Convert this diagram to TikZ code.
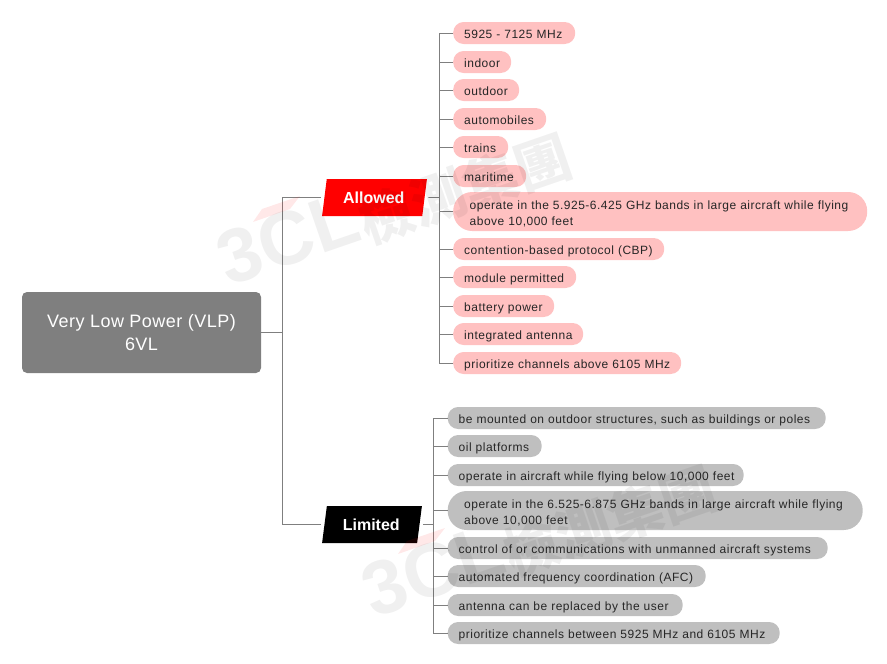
\documentclass[tikz,border=0pt]{standalone}
\usepackage{fontspec}
\setmainfont{Liberation Sans}[LetterSpace=4.2]
\newfontfamily\plainf{Liberation Sans}
\newfontfamily\rootf{Liberation Sans}[LetterSpace=2.7]
\newfontfamily\cjk{Noto Sans CJK TC}
\usetikzlibrary{shapes.geometric}
\definecolor{pinkpill}{HTML}{FFC1C1}
\definecolor{graypill}{HTML}{BFBFBF}
\definecolor{linec}{HTML}{7F7F7F}
\definecolor{txt}{HTML}{262626}
\newcommand\lineone[1]{\raisebox{-2pt}[9pt][3pt]{#1}}
\newcommand\linetwo[1]{\raisebox{-3pt}[9pt][3pt]{#1}}
\tikzset{
  x=1pt,y=-1pt,
  conn/.style={draw=linec,line width=0.8pt},
  pillbase/.style={anchor=west,align=left,text=txt,font=\fontsize{12}{16}\selectfont,inner ysep=0pt},
  pill/.style 2 args={pillbase,rectangle,rounded corners=10.5pt,minimum height=22pt,inner xsep=11pt,text width=#1pt-22pt,fill=#2},
  widepill/.style 2 args={pillbase,rectangle,rounded corners=19pt,minimum height=39pt,inner xsep=16.5pt,text width=#1pt-33pt,fill=#2},
  para/.style={trapezium,trapezium left angle=76,trapezium right angle=104,trapezium stretches=true,inner sep=0pt,minimum height=37pt,text=white,font=\plainf\fontsize{16}{18}\selectfont\bfseries},
  rootbox/.style={rectangle,rounded corners=5pt,fill=linec,text=white,align=center,minimum width=239pt,minimum height=81pt,inner sep=0pt,font=\rootf\fontsize{18}{23}\selectfont},
  wmark/.style={black,opacity=0.06,inner sep=0pt,font=\plainf\fontsize{76}{76}\selectfont\bfseries},
  wcjk/.style={black,opacity=0.06,inner sep=0pt,font=\cjk\fontsize{55}{55}\selectfont\bfseries},
}
\begin{document}
\begin{tikzpicture}
\useasboundingbox (0,0) rectangle (887,664);
\node[rootbox] (root) at (141.5,332.5) {Very Low Power (VLP)\\6VL};
\node[para,fill=red,minimum width=105pt] (allowed) at (374.5,197.5) {\hspace{-1.5pt}Allowed};
\node[para,fill=black,minimum width=100pt] (limited) at (372,524.5) {\hspace{-1.5pt}Limited};
\coordinate (trunk) at (282,332.5);
\coordinate (atrunk) at (439,197.5);
\coordinate (ltrunk) at (433,524.5);
% Allowed
\node[pill={122}{pinkpill}] (a1) at (453,33) {\lineone{5925 - 7125 MHz}};
\node[pill={58}{pinkpill}] (a2) at (453,62) {\lineone{indoor}};
\node[pill={66}{pinkpill}] (a3) at (453,90) {\lineone{outdoor}};
\node[pill={93}{pinkpill}] (a4) at (453,119) {\lineone{automobiles}};
\node[pill={55}{pinkpill}] (a5) at (453,147) {\lineone{trains}};
\node[pill={73}{pinkpill}] (a6) at (453,176) {\lineone{maritime}};
\node[widepill={414}{pinkpill}] (a7) at (453,211.5) {\linetwo{operate in the 5.925-6.425 GHz bands in large aircraft while flying}\\\linetwo{above 10,000 feet}};
\node[pill={211}{pinkpill}] (a8) at (453,249) {\lineone{contention-based protocol (CBP)}};
\node[pill={123}{pinkpill}] (a9) at (453,277) {\lineone{module permitted}};
\node[pill={101}{pinkpill}] (a10) at (453,306) {\lineone{battery power}};
\node[pill={130}{pinkpill}] (a11) at (453,334) {\lineone{integrated antenna}};
\node[pill={228}{pinkpill}] (a12) at (453,363) {\lineone{prioritize channels above 6105 MHz}};
% Limited
\node[pill={378}{graypill}] (l1) at (447.5,418) {\lineone{be mounted on outdoor structures, such as buildings or poles}};
\node[pill={94}{graypill}] (l2) at (447.5,446) {\lineone{oil platforms}};
\node[pill={296}{graypill}] (l3) at (447.5,475) {\lineone{operate in aircraft while flying below 10,000 feet}};
\node[widepill={415}{graypill}] (l4) at (447.5,510.5) {\linetwo{operate in the 6.525-6.875 GHz bands in large aircraft while flying}\\\linetwo{above 10,000 feet}};
\node[pill={380}{graypill}] (l5) at (447.5,548) {\lineone{control of or communications with unmanned aircraft systems}};
\node[pill={258}{graypill}] (l6) at (447.5,576) {\lineone{automated frequency coordination (AFC)}};
\node[pill={235}{graypill}] (l7) at (447.5,605) {\lineone{antenna can be replaced by the user}};
\node[pill={332}{graypill}] (l8) at (447.5,633) {\lineone{prioritize channels between 5925 MHz and 6105 MHz}};
% Connectors
\draw[conn] (root.east) -- (trunk);
\draw[conn,shorten >=3.5pt] (trunk) |- (allowed.west);
\draw[conn,shorten >=3.5pt] (trunk) |- (limited.west);
\draw[conn,shorten <=3.5pt] (allowed.east) -- (atrunk);
\draw[conn,shorten <=3.5pt] (limited.east) -- (ltrunk);
\foreach \n in {a1,a2,a3,a4,a5,a6,a7,a8,a9,a10,a11,a12} \draw[conn] (\n.west) -| (atrunk);
\foreach \n in {l1,l2,l3,l4,l5,l6,l7,l8} \draw[conn] (\n.west) -| (ltrunk);
% Watermarks
\foreach \dx/\dy/\w in {0/0/wa,145/332/wb}{
  \begin{scope}[shift={(\dx,\dy)}]
    \fill[red,opacity=0.09] (253,222) -- (262,209) -- (300,196) -- (290,209) -- cycle;
    \node[wmark,rotate=19] (\w t) at (288,238) {3CL};
    \node[wcjk,rotate=19] (\w c) at (465,189) {檢測集團};
  \end{scope}
}
\end{tikzpicture}
\end{document}
